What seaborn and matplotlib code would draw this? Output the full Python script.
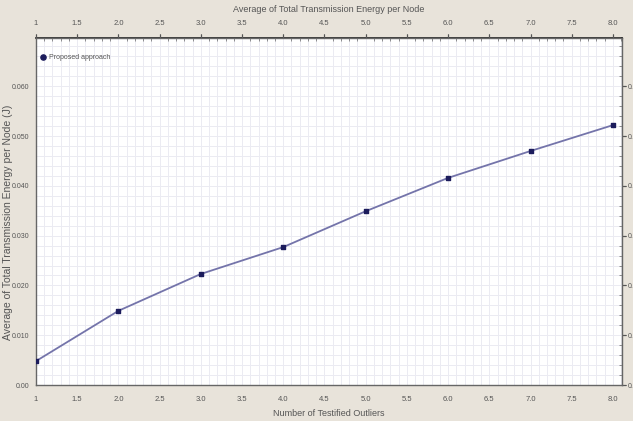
import matplotlib
matplotlib.use("Agg")
import matplotlib.pyplot as plt
import seaborn as sns
import pandas as pd
import numpy as np
from matplotlib.ticker import MultipleLocator, FixedLocator

outliers = [1, 2, 3, 4, 5, 6, 7, 8]
energy = [0.0048, 0.0149, 0.0223, 0.0277, 0.0349, 0.0416, 0.0470, 0.0522]
series_name = "Proposed approach"

x_ticks = [1, 1.5, 2, 2.5, 3, 3.5, 4, 4.5, 5, 5.5, 6, 6.5, 7, 7.5, 8]
x_labels = ["1", "1.5", "2.0", "2.5", "3.0", "3.5", "4.0", "4.5", "5.0", "5.5",
            "6.0", "6.5", "7.0", "7.5", "8.0"]
y_ticks = [0.0, 0.01, 0.02, 0.03, 0.04, 0.05, 0.06]
y_labels = ["0.00", "0.010", "0.020", "0.030", "0.040", "0.050", "0.060"]

df = pd.DataFrame({"x": outliers, "y": energy, "s": series_name})

sns.set_theme(style="white")
plt.rcParams['font.family'] = ['Liberation Sans Narrow', 'Liberation Sans', 'DejaVu Sans']

bg = "#e8e3da"
txt = "#555555"
fig = plt.figure(figsize=(6.33, 4.21), dpi=100, facecolor=bg)
ax = fig.add_axes([36/633, 36/421, 586/633, 347/421])
ax.set_facecolor("white")

sns.lineplot(data=df, x="x", y="y", hue="s", palette=["#7474aa"], ax=ax,
             linewidth=1.3, legend=False, zorder=3)
ax.scatter(df["x"], df["y"], s=9, marker="s", color="#1c1c5c", zorder=4)

ax.set_xlim(1, 8.11)
ax.set_ylim(0, 0.0697)

ax.xaxis.set_major_locator(FixedLocator(x_ticks))
ax.set_xticklabels(x_labels)
ax.xaxis.set_minor_locator(MultipleLocator(0.1))
ax.yaxis.set_major_locator(FixedLocator(y_ticks))
ax.set_yticklabels(y_labels)
ax.yaxis.set_minor_locator(MultipleLocator(0.002))

ax.grid(True, which="both", color="#ebebf2", linewidth=0.7, zorder=0)
ax.set_axisbelow(True)

for sp in ax.spines.values():
    sp.set_color("#666666")
    sp.set_linewidth(1.0)

tick_kw = dict(colors=txt, labelcolor=txt)
ax.tick_params(axis="x", which="major", direction="out", length=3, width=0.8,
               pad=5, labelsize=5.5, **tick_kw)
ax.tick_params(axis="y", which="major", direction="out", length=3, width=0.8,
               pad=2, labelsize=5, **tick_kw)
ax.tick_params(axis="both", which="minor", direction="in", length=2, width=0.5,
               color="#666666")
ax.tick_params(top=True, right=True, which="both")

ax.set_xlabel("Number of Testified Outliers", fontsize=6.5, color=txt, labelpad=4)
ax.set_ylabel("Average of Total Transmission Energy per Node (J)", fontsize=7.5,
              color=txt, family=['Liberation Sans', 'DejaVu Sans'])
ax.yaxis.set_label_coords(-0.040, 0.47)

top = ax.secondary_xaxis("top")
top.xaxis.set_major_locator(FixedLocator(x_ticks))
top.set_xticklabels(x_labels)
top.tick_params(direction="out", length=3, width=0.8, pad=5, labelsize=5.5, **tick_kw)
top.set_xlabel("Average of Total Transmission Energy per Node", fontsize=6.5,
               color=txt, labelpad=6)

right = ax.secondary_yaxis("right")
right.yaxis.set_major_locator(FixedLocator(y_ticks))
right.set_yticklabels(y_labels)
right.tick_params(direction="out", length=3, width=0.8, pad=1, labelsize=5, **tick_kw)

ax.scatter([1.08], [0.0658], s=14, marker="o", color="#1c1c5c", zorder=5)
ax.text(1.16, 0.0658, series_name, fontsize=5, color=txt, va="center")

fig.savefig("out.png", dpi=100, facecolor=bg)
